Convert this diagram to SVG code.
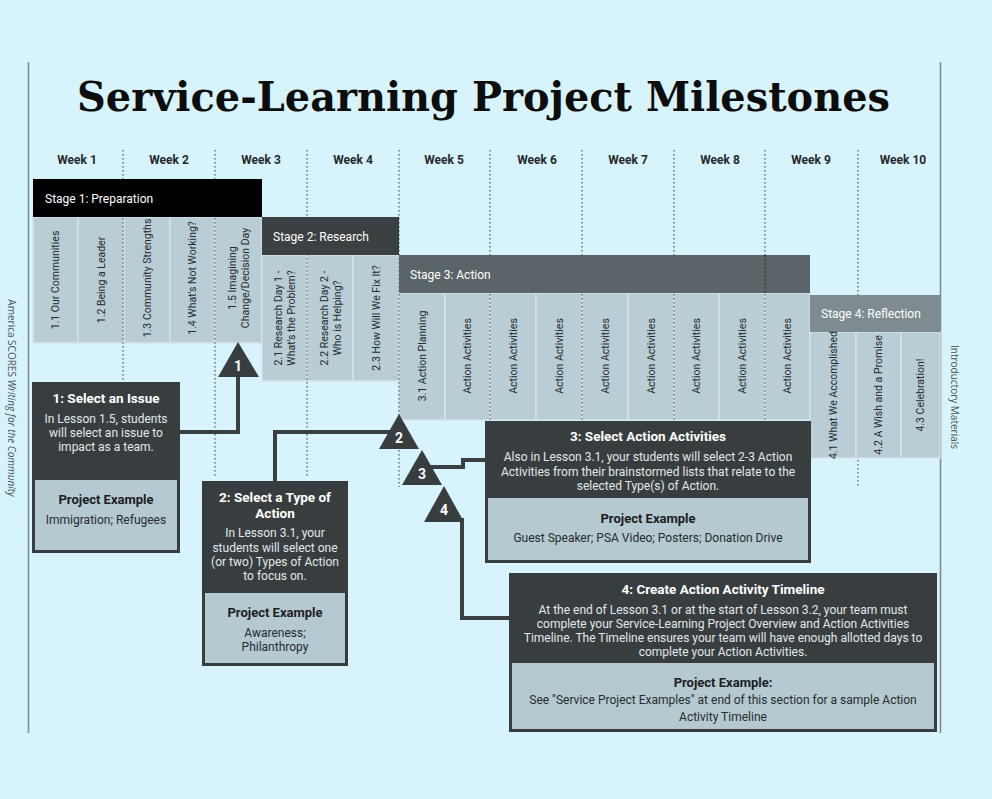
<svg xmlns="http://www.w3.org/2000/svg" width="992" height="799" viewBox="0 0 992 799">
<style>
.bg{fill:#d7f4fc}
.frame{stroke:#7f8c91;stroke-width:1.6}
.title{font-family:'DejaVu Serif','Liberation Serif',serif;font-weight:bold;font-size:41px;fill:#0d0d0d}
.wk{font-family:Roboto,'Liberation Sans',sans-serif;font-weight:bold;font-size:12px;fill:#262a2c;text-anchor:middle;dominant-baseline:central}
.dot{stroke:#6f7c81;stroke-width:1.6;stroke-dasharray:1.6 2.4;fill:none}
.dotd{stroke:#2e3335;stroke-width:1.6;stroke-dasharray:1.6 2.4;fill:none}
.col{fill:#b8cdd4;stroke:#d3e3e8;stroke-width:1.5}
.ct{font-family:Roboto,'Liberation Sans',sans-serif;font-size:10.5px;fill:#262b2d;text-anchor:middle;dominant-baseline:central}
.st{font-family:Roboto,'Liberation Sans',sans-serif;font-size:12px;fill:#ffffff;dominant-baseline:central}
.conn{stroke:#3a4042;stroke-width:4;fill:none;stroke-linejoin:miter}
.tri{fill:#383e40}
.tn{font-family:Roboto,'Liberation Sans',sans-serif;font-weight:bold;font-size:14px;fill:#ffffff;text-anchor:middle;dominant-baseline:central}
.bx{fill:#383e40}
.bl{fill:#b5c9d0}
.bt{font-family:Roboto,'Liberation Sans',sans-serif;font-weight:bold;font-size:13.5px;fill:#ffffff;text-anchor:middle;dominant-baseline:central}
.bb{font-family:Roboto,'Liberation Sans',sans-serif;font-size:12px;fill:#e1e8ea;text-anchor:middle;dominant-baseline:central}
.pe{font-family:Roboto,'Liberation Sans',sans-serif;font-weight:bold;font-size:13px;fill:#1c2022;text-anchor:middle;dominant-baseline:central}
.pt{font-family:Roboto,'Liberation Sans',sans-serif;font-size:12px;fill:#262b2d;text-anchor:middle;dominant-baseline:central}
.side{font-family:'Open Sans','Liberation Sans',sans-serif;font-size:10px;fill:#4a5154;text-anchor:middle;dominant-baseline:central}
</style>
<rect class="bg" x="0" y="0" width="992" height="799"/>
<line class="frame" x1="28.5" y1="62" x2="28.5" y2="733"/>
<line class="frame" x1="940.5" y1="62" x2="940.5" y2="733"/>
<text class="title" x="77" y="111" textLength="813" lengthAdjust="spacingAndGlyphs">Service-Learning Project Milestones</text>
<g id="side-left"><text class="side" transform="translate(12,398) rotate(90)">America SCORES <tspan font-style="italic">Writing for the Community</tspan></text></g>
<g id="side-right"><text class="side" transform="translate(955,397) rotate(90)">Introductory Materials</text></g>
<g id="weeks">
<text class="wk" x="77" y="160">Week 1</text>
<text class="wk" x="169" y="160">Week 2</text>
<text class="wk" x="261" y="160">Week 3</text>
<text class="wk" x="353" y="160">Week 4</text>
<text class="wk" x="444" y="160">Week 5</text>
<text class="wk" x="537" y="160">Week 6</text>
<text class="wk" x="628" y="160">Week 7</text>
<text class="wk" x="720" y="160">Week 8</text>
<text class="wk" x="811" y="160">Week 9</text>
<text class="wk" x="903" y="160">Week 10</text>
</g>
<g id="columns">
<rect class="col" x="33" y="217" width="45" height="126"/>
<rect class="col" x="78" y="217" width="46" height="126"/>
<rect class="col" x="124" y="217" width="46" height="126"/>
<rect class="col" x="170" y="217" width="45" height="126"/>
<rect class="col" x="215" y="217" width="47" height="126"/>
<rect class="col" x="262" y="255" width="45" height="126"/>
<rect class="col" x="307" y="255" width="46" height="126"/>
<rect class="col" x="353" y="255" width="46" height="126"/>
<rect class="col" x="399" y="293" width="46" height="127"/>
<rect class="col" x="445" y="293" width="45" height="127"/>
<rect class="col" x="490" y="293" width="46" height="127"/>
<rect class="col" x="536" y="293" width="46" height="127"/>
<rect class="col" x="582" y="293" width="46" height="127"/>
<rect class="col" x="628" y="293" width="46" height="127"/>
<rect class="col" x="674" y="293" width="45" height="127"/>
<rect class="col" x="719" y="293" width="46" height="127"/>
<rect class="col" x="765" y="293" width="45" height="127"/>
<rect class="col" x="810" y="332" width="46" height="126"/>
<rect class="col" x="856" y="332" width="45" height="126"/>
<rect class="col" x="901" y="332" width="39" height="126"/>
</g>
<g id="gridlines">
<line class="dot" x1="123" y1="150" x2="123" y2="380"/>
<line class="dot" x1="215" y1="150" x2="215" y2="478"/>
<line class="dot" x1="307" y1="150" x2="307" y2="478"/>
<line class="dot" x1="399" y1="150" x2="399" y2="487"/>
<line class="dot" x1="490" y1="150" x2="490" y2="420"/>
<line class="dot" x1="582" y1="150" x2="582" y2="420"/>
<line class="dot" x1="674" y1="150" x2="674" y2="420"/>
<line class="dot" x1="765" y1="150" x2="765" y2="420"/>
<line class="dot" x1="858" y1="150" x2="858" y2="295"/>
<line class="dot" x1="858" y1="460" x2="858" y2="487"/>
</g>
<g id="stage1">
<rect x="33" y="179" width="229" height="38" fill="#000000"/>
<text class="st" x="45" y="199">Stage 1: Preparation</text>
<text class="ct" transform="translate(55.5,280) rotate(-90)">1.1 Our Communities</text>
<text class="ct" transform="translate(101,280) rotate(-90)">1.2 Being a Leader</text>
<text class="ct" transform="translate(147,278) rotate(-90)">1.3 Community Strengths</text>
<text class="ct" transform="translate(192.5,278) rotate(-90)">1.4 What's Not Working?</text>
<text class="ct" transform="translate(238.5,278) rotate(-90)"><tspan x="0" y="-6.5">1.5 Imagining</tspan><tspan x="0" y="6.5">Change/Decision Day</tspan></text>
</g>
<g id="stage2">
<rect x="262" y="217" width="137" height="38" fill="#3b4143"/>
<text class="st" x="273" y="237">Stage 2: Research</text>
<text class="ct" transform="translate(284.5,318) rotate(-90)"><tspan x="0" y="-6.5">2.1 Research Day 1 -</tspan><tspan x="0" y="6.5">What's the Problem?</tspan></text>
<text class="ct" transform="translate(330,318) rotate(-90)"><tspan x="0" y="-6.5">2.2 Research Day 2 -</tspan><tspan x="0" y="6.5">Who is Helping?</tspan></text>
<text class="ct" transform="translate(376,318) rotate(-90)">2.3 How Will We Fix It?</text>
</g>
<g id="stage3">
<rect x="399" y="255" width="411" height="38" fill="#5b6468"/>
<line class="dotd" x1="765" y1="255" x2="765" y2="293"/>
<text class="st" x="410" y="275">Stage 3: Action</text>
<text class="ct" transform="translate(422,356) rotate(-90)">3.1 Action Planning</text>
<text class="ct" transform="translate(467.5,356) rotate(-90)">Action Activities</text>
<text class="ct" transform="translate(513,356) rotate(-90)">Action Activities</text>
<text class="ct" transform="translate(559,356) rotate(-90)">Action Activities</text>
<text class="ct" transform="translate(605,356) rotate(-90)">Action Activities</text>
<text class="ct" transform="translate(651,356) rotate(-90)">Action Activities</text>
<text class="ct" transform="translate(696.5,356) rotate(-90)">Action Activities</text>
<text class="ct" transform="translate(742,356) rotate(-90)">Action Activities</text>
<text class="ct" transform="translate(787.5,356) rotate(-90)">Action Activities</text>
</g>
<g id="stage4">
<rect x="810" y="295" width="130" height="37" fill="#7e8c91"/>
<text class="st" x="821" y="314" fill="#eef3f4">Stage 4: Reflection</text>
<text class="ct" transform="translate(833,395) rotate(-90)">4.1 What We Accomplished</text>
<text class="ct" transform="translate(878.5,395) rotate(-90)">4.2 A Wish and a Promise</text>
<text class="ct" transform="translate(920.5,395) rotate(-90)">4.3 Celebration!</text>
</g>
<g id="connectors">
<path class="conn" d="M180,432 H238 V372"/>
<path class="conn" d="M275,481 V432 H392"/>
<path class="conn" d="M430,467 H463 V460 H486"/>
<path class="conn" d="M462,518 V618 H510"/>
</g>
<g id="milestone1"><polygon class="tri" points="238,342 218,377 259,377"/><text class="tn" x="238" y="366">1</text></g>
<g id="milestone2"><polygon class="tri" points="399,414 379,449 419,449"/><text class="tn" x="399" y="438">2</text></g>
<g id="milestone3"><polygon class="tri" points="422,450 402,485 442,485"/><text class="tn" x="422" y="474">3</text></g>
<g id="milestone4"><polygon class="tri" points="444,486 424,522 464,522"/><text class="tn" x="444" y="510">4</text></g>
<g id="box1">
<rect class="bx" x="32" y="382" width="148" height="171"/>
<rect class="bl" x="35" y="480" width="142" height="70"/>
<text class="bt" x="106" y="398" font-size="14">1: Select an Issue</text>
<text class="bb" x="106" y="419">In Lesson 1.5, students</text>
<text class="bb" x="106" y="433">will select an issue to</text>
<text class="bb" x="106" y="447">impact as a team.</text>
<text class="pe" x="106" y="499">Project Example</text>
<text class="pt" x="106" y="520">Immigration; Refugees</text>
</g>
<g id="box2">
<rect class="bx" x="202" y="481" width="146" height="185"/>
<rect class="bl" x="205" y="593" width="140" height="70"/>
<text class="bt" x="275" y="497">2: Select a Type of</text>
<text class="bt" x="275" y="513">Action</text>
<text class="bb" x="275" y="533">In Lesson 3.1, your</text>
<text class="bb" x="275" y="548">students will select one</text>
<text class="bb" x="275" y="562">(or two) Types of Action</text>
<text class="bb" x="275" y="576">to focus on.</text>
<text class="pe" x="275" y="612">Project Example</text>
<text class="pt" x="275" y="633">Awareness;</text>
<text class="pt" x="275" y="647">Philanthropy</text>
</g>
<g id="box3">
<rect class="bx" x="485" y="421" width="326" height="142"/>
<rect class="bl" x="488" y="498" width="320" height="62"/>
<text class="bt" x="648" y="436">3: Select Action Activities</text>
<text class="bb" x="648" y="457">Also in Lesson 3.1, your students will select 2-3 Action</text>
<text class="bb" x="648" y="472">Activities from their brainstormed lists that relate to the</text>
<text class="bb" x="648" y="486">selected Type(s) of Action.</text>
<text class="pe" x="648" y="518">Project Example</text>
<text class="pt" x="648" y="538">Guest Speaker; PSA Video; Posters; Donation Drive</text>
</g>
<g id="box4">
<rect class="bx" x="509" y="573" width="428" height="159"/>
<rect class="bl" x="512" y="663" width="422" height="66"/>
<text class="bt" x="723" y="589">4: Create Action Activity Timeline</text>
<text class="bb" x="723" y="610">At the end of Lesson 3.1 or at the start of Lesson 3.2, your team must</text>
<text class="bb" x="723" y="624">complete your Service-Learning Project Overview and Action Activities</text>
<text class="bb" x="723" y="638">Timeline. The Timeline ensures your team will have enough allotted days to</text>
<text class="bb" x="723" y="652">complete your Action Activities.</text>
<text class="pe" x="723" y="682">Project Example:</text>
<text class="pt" x="723" y="700">See "Service Project Examples" at end of this section for a sample Action</text>
<text class="pt" x="723" y="717">Activity Timeline</text>
</g>
</svg>
